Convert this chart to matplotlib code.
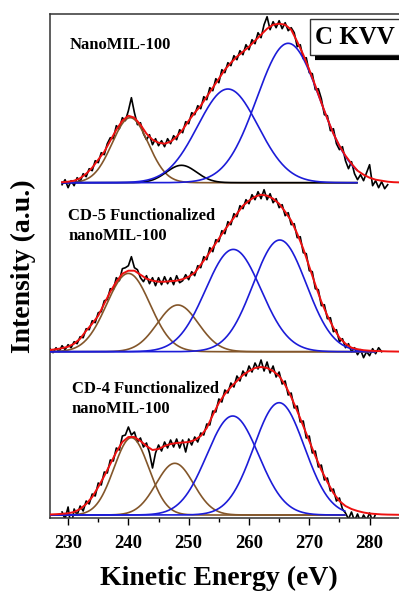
import numpy as np
import matplotlib
matplotlib.use('Agg')
import matplotlib.pyplot as plt
from matplotlib.ticker import MultipleLocator

plt.rcParams['font.family'] = ['Liberation Serif', 'DejaVu Serif']
plt.rcParams['font.weight'] = 'bold'

# fitted envelopes (red), 1 eV steps
fit_energy = np.arange(227, 286)
top_fit = [np.nan, np.nan, 0.5, 1, 2, 4.5, 9, 15, 23, 31, 42, 53, 62, 67,
           65, 58, 49, 43, 40, 39, 41, 46, 53, 62,
           70, 77, 86, 95, 104, 113, 120, 126, 131, 136,
           142, 148, 154, 158, 159, 158, 153, 141, 128, 113,
           97, 80, 64, 49, 37, 27, 19, 12, 8, 5,
           3, 2, 1, 0.5, 0.3]
mid_fit = [1.7, 2.5, 3.5, 5, 8, 13, 21, 28, 36, 48, 60, 70, 78, 81,
           81, 77, 73, 71, 70, 70, 70.5, 71, 72.5, 75,
           79, 87, 95, 104, 113, 122, 130, 138, 146, 151,
           155, 157, 156, 153, 148, 140, 131, 118, 103, 85,
           67, 50, 36, 24, 14, 8, 4, 2.5, 1.5, 1,
           0.7, 0.5, 0.3, 0.2, 0.1]
bot_fit = [0.5, 0.8, 1.2, 1.7, 3, 6, 11, 18, 28, 39, 51, 63, 73, 78,
           78, 74, 69, 65, 66, 69, 71, 72, 72.5, 73,
           75, 79, 87, 100, 112, 121, 128, 134, 140, 144,
           147, 148, 147, 144, 139, 130, 118, 104, 89, 74,
           59, 45, 33, 22, 14, 9, 6, 4, 2.5, 1.5,
           1, 0.6, 0.4, 0.3, 0.2]

# measured spectra (black), 0.5 eV steps
top_energy = np.arange(229, 283.25, 0.5)
top_data = [-2, 3, -5, 2, -3, 5, 1, 9, 6, 14,
            12, 22, 20, 30, 28, 39, 45, 44, 57, 54,
            65, 62, 72, 85, 70, 58, 60, 49, 43, 48,
            38, 44, 37, 42, 36, 44, 39, 47, 43, 53,
            50, 61, 59, 70, 68, 77, 74, 86, 83, 95,
            92, 104, 100, 113, 110, 120, 117, 127, 123, 132,
            128, 138, 133, 143, 139, 150, 145, 158, 166, 153,
            161, 155, 162, 154, 160, 152, 155, 150, 136, 138,
            124, 125, 110, 109, 93, 94, 84, 68, 67, 52,
            54, 39, 33, 36, 22, 14, 21, 9, 3, 8,
            2, 10, 18, -3, 2, -5, 1, -6, -2]
mid_energy = np.arange(227, 282.25, 0.5)
mid_data = [3, -1, 4, 0, 6, 2, 7, 4, 10, 8,
            15, 14, 23, 22, 31, 29, 39, 40, 51, 52,
            63, 62, 74, 71, 83, 84, 86, 95, 84, 82,
            74, 70, 76, 68, 74, 66, 74, 67, 75, 68,
            74, 67, 76, 69, 71, 77, 72, 80, 76, 86,
            84, 95, 92, 104, 100, 112, 110, 121, 118, 130,
            127, 138, 135, 146, 143, 152, 148, 157, 152, 160,
            153, 162, 152, 158, 149, 153, 144, 147, 136, 139,
            127, 128, 114, 115, 99, 98, 81, 80, 63, 62,
            46, 47, 33, 34, 20, 22, 10, 13, 4, 8,
            0, 4, -3, 2, -6, 0, -4, 3, -2, 4,
            0]
bot_energy = np.arange(229, 281.25, 0.5)
bot_data = [3, -4, 8, -13, 6, 0, 9, 4, 14, 11,
            21, 19, 32, 30, 43, 42, 55, 54, 67, 65,
            79, 80, 88, 80, 83, 73, 77, 68, 72, 62,
            47, 62, 70, 64, 73, 67, 75, 68, 76, 67,
            75, 63, 76, 70, 78, 73, 82, 80, 91, 90,
            104, 103, 116, 113, 125, 122, 132, 128, 139, 134,
            144, 139, 149, 143, 152, 146, 155, 144, 153, 142,
            149, 138, 143, 131, 134, 120, 122, 107, 109, 93,
            94, 77, 79, 62, 64, 48, 50, 35, 37, 24,
            26, 14, 17, 6, 2, -4, 3, -6, 1, -7,
            0, -5, 2, -6, 1]

# fitted peak components: centre (eV), height, sigma
top_centers = [240.3, 248.8, 256.5, 266.5]
top_heights = [65, 17.4, 93.7, 139.4]
top_sigmas = [3.0, 2.5, 5.0, 5.2]
mid_centers = [240.0, 248.2, 257.4, 265.1]
mid_heights = [78.3, 46.7, 102.3, 111.7]
mid_sigmas = [3.6, 3.4, 4.6, 4.4]
bot_centers = [240.5, 247.7, 257.3, 265.0]
bot_heights = [77.3, 51.7, 99, 112.3]
bot_sigmas = [2.9, 3.1, 4.3, 4.2]

labels = ['NanoMIL-100', 'CD-5 Functionalized\nnanoMIL-100',
          'CD-4 Functionalized\nnanoMIL-100']

brown = '#83562a'
blue = '#1c1cd8'
red = '#ee1111'

fig = plt.figure(figsize=(3.99, 5.91), dpi=100)
ax = fig.add_axes([50 / 399, 73 / 591, 360 / 399, 504 / 591])


def draw_spectrum(energy, data, fit, centers, heights, sigmas, colors,
                  offset, comp_range):
    ax.plot(energy, np.array(data) + offset, color='black', lw=1.2, zorder=2)
    e = np.arange(comp_range[0], comp_range[1], 0.1)
    for c, h, s, col in zip(centers, heights, sigmas, colors):
        g = h * np.exp(-(e - c) ** 2 / (2 * s ** 2))
        ax.plot(e, g + offset, color=col, lw=1.2, zorder=3)
    ax.plot(fit_energy, np.array(fit) + offset, color=red, lw=1.4, zorder=4)


draw_spectrum(top_energy, top_data, top_fit, top_centers, top_heights,
              top_sigmas, [brown, 'black', blue, blue], 335.3, (229, 278))
draw_spectrum(mid_energy, mid_data, mid_fit, mid_centers, mid_heights,
              mid_sigmas, [brown, brown, blue, blue], 166.3, (227, 281))
draw_spectrum(bot_energy, bot_data, bot_fit, bot_centers, bot_heights,
              bot_sigmas, [brown, brown, blue, blue], 3, (227, 276))

ax.set_xlim(227, 227 + 360 / 6.03)
ax.set_ylim(0, 504)
ax.xaxis.set_major_locator(MultipleLocator(10))
ax.xaxis.set_minor_locator(MultipleLocator(5))
ax.tick_params(axis='x', which='major', direction='out', length=5, width=1,
               labelsize=13.5, pad=7)
ax.tick_params(axis='x', which='minor', direction='out', length=3, width=1)
ax.set_yticks([])
for sp in ax.spines.values():
    sp.set_linewidth(1.1)
    sp.set_color('#333333')

ax.set_xlabel('Kinetic Energy (eV)', fontsize=20, fontweight='bold')
ax.xaxis.set_label_coords(0.483 * 349 / 360, -0.095)
ax.set_ylabel('Intensity (a.u.)', fontsize=20, fontweight='bold')
ax.yaxis.set_label_coords(-0.04, 0.5)

sx = 349 / 360
ax.text(0.055 * sx, 0.938, labels[0], transform=ax.transAxes, fontsize=12,
        fontweight='bold', va='center', ha='left')
ax.text(0.052 * sx, 0.579, labels[1], transform=ax.transAxes, fontsize=12,
        fontweight='bold', va='center', ha='left', linespacing=1.3)
ax.text(0.062 * sx, 0.2365, labels[2], transform=ax.transAxes, fontsize=12,
        fontweight='bold', va='center', ha='left', linespacing=1.3)

# C KVV box with thick bar beneath
ax.add_patch(plt.Rectangle((0.745 * sx, 0.919), 0.4, 0.071,
                           transform=ax.transAxes, fill=False,
                           edgecolor='#333333', lw=1.0, zorder=5))
ax.text(0.759 * sx, 0.954, 'C KVV', transform=ax.transAxes, fontsize=18,
        fontweight='bold', va='center', ha='left', zorder=6)
ax.plot([0.759 * sx, 1.2], [0.912, 0.912], transform=ax.transAxes,
        color='black', lw=3, solid_capstyle='butt', clip_on=False, zorder=6)

fig.savefig('out.png', dpi=100)
